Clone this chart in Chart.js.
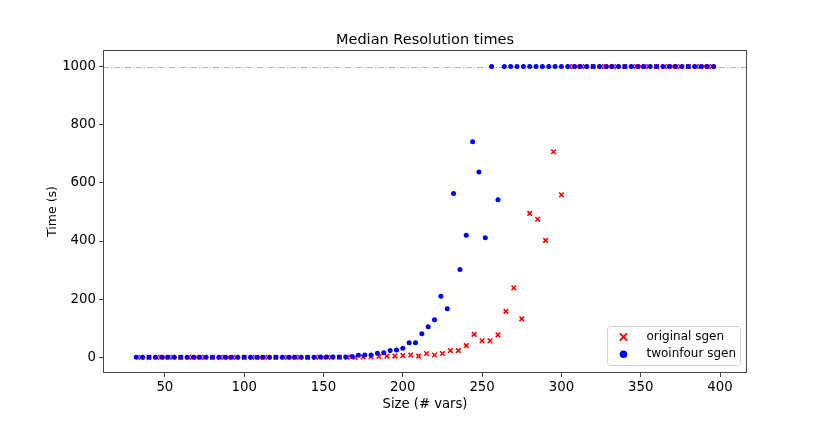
<!DOCTYPE html>
<html>
<head>
<meta charset="utf-8">
<title>Median Resolution times</title>
<script src="https://cdn.jsdelivr.net/npm/chart.js@4.4.0/dist/chart.umd.min.js"></script>
<style>
  html, body { margin: 0; padding: 0; background: #fff; }
  canvas { display: block; }
</style>
</head>
<body>
<canvas id="chart" width="830" height="421"></canvas>
<script>
// timeout value, runs that did not finish are plotted here
const TIMEOUT = 1000;

// original sgen: size (# vars) and median time (s)
const originalSizes = [
    35, 40, 45, 50, 55, 60, 65, 70, 75, 80, 85, 90, 95, 100, 105, 110, 115, 120, 125, 130,
    135, 140, 145, 150, 155, 160, 165, 170, 175, 180, 185, 190, 195, 200, 205, 210, 215, 220,
    225, 230, 235, 240, 245, 250, 255, 260, 265, 270, 275, 280, 285, 290, 295, 300, 305, 310,
    315, 320, 325, 330, 335, 340, 345, 350, 355, 360, 365, 370, 375, 380, 385, 390, 395
];
const originalTimes = [
    0, 0, 0, 0, 0, 0, 0, 0, 0, 0, 0, 0, 0, 0, 0, 0, 0, 0, 0, 0,
    0, 0, 0, 0, 0, 0, 0, 0, 1, 2, 3, 4, 4, 6, 8, 4, 13, 8,
    13, 23, 23, 40, 79, 57, 57, 77, 158, 239, 132, 495, 475, 402, 707, 559, 1000, 1000,
    1000, 1000, 1000, 1000, 1000, 1000, 1000, 1000, 1000, 1000, 1000, 1000, 1000, 1000, 1000, 1000, 1000
];

// twoinfour sgen: size (# vars) and median time (s)
const twoinfourSizes = [
    32, 36, 40, 44, 48, 52, 56, 60, 64, 68, 72, 76, 80, 84, 88, 92, 96, 100, 104, 108,
    112, 116, 120, 124, 128, 132, 136, 140, 144, 148, 152, 156, 160, 164, 168, 172, 176, 180,
    184, 188, 192, 196, 200, 204, 208, 212, 216, 220, 224, 228, 232, 236, 240, 244, 248, 252,
    256, 260, 264, 268, 272, 276, 280, 284, 288, 292, 296, 300, 304, 308, 312, 316, 320, 324,
    328, 332, 336, 340, 344, 348, 352, 356, 360, 364, 368, 372, 376, 380, 384, 388, 392, 396
];
const twoinfourTimes = [
    0, 0, 0, 0, 0, 0, 0, 0, 0, 0, 0, 0, 0, 0, 0, 0, 0, 0, 0, 0,
    0, 0, 0, 0, 0, 0, 0, 0, 0, 1, 1, 1, 1, 1, 3, 7, 8, 8,
    14, 16, 23, 25, 31, 50, 50, 81, 105, 129, 210, 167, 563, 302, 420, 741, 637, 411,
    1000, 542, 1000, 1000, 1000, 1000, 1000, 1000, 1000, 1000, 1000, 1000, 1000, 1000, 1000, 1000, 1000, 1000,
    1000, 1000, 1000, 1000, 1000, 1000, 1000, 1000, 1000, 1000, 1000, 1000, 1000, 1000, 1000, 1000, 1000, 1000
];

const xTicks = [50, 100, 150, 200, 250, 300, 350, 400];
const yTicks = [0, 200, 400, 600, 800, 1000];

const FONT = "'DejaVu Sans', Verdana, sans-serif";

function toPoints(xs, ys) {
    return xs.map((x, i) => ({ x: x, y: ys[i] }));
}

// dash-dot timeout line, axes frame and the legend box
const decorations = {
    id: "decorations",
    afterLayout(chart) {
        // centre the title over the plot area, like matplotlib does
        const t = chart.titleBlock;
        if (t) {
            t.left = chart.chartArea.left;
            t.right = chart.chartArea.right;
            t.width = t.right - t.left;
        }
    },
    beforeDatasetsDraw(chart) {
        const ctx = chart.ctx;
        const ca = chart.chartArea;
        const y = Math.round(chart.scales.y.getPixelForValue(TIMEOUT)) + 0.5;
        ctx.save();
        ctx.strokeStyle = "#b8b8b8";
        ctx.lineWidth = 1;
        ctx.setLineDash([6, 2, 1, 2]);
        ctx.beginPath();
        ctx.moveTo(ca.left, y);
        ctx.lineTo(ca.right, y);
        ctx.stroke();
        ctx.restore();
    },
    afterDraw(chart) {
        const ctx = chart.ctx;
        const ca = chart.chartArea;
        ctx.save();
        ctx.strokeStyle = "#444";
        ctx.lineWidth = 1;
        ctx.strokeRect(Math.round(ca.left) + 0.5, Math.round(ca.top) + 0.5,
            Math.round(ca.right - ca.left) - 1, Math.round(ca.bottom - ca.top) - 1);

        // legend
        const w = 133, h = 39;
        const bx = Math.round(ca.right - 7 - w) + 0.5;
        const by = Math.round(ca.bottom - 8 - h) + 0.5;
        ctx.fillStyle = "rgba(255,255,255,0.8)";
        ctx.strokeStyle = "#d0d0d0";
        ctx.beginPath();
        ctx.roundRect(bx, by, w, h, 3);
        ctx.fill();
        ctx.stroke();

        const items = chart.data.datasets;
        ctx.font = "12px " + FONT;
        ctx.textBaseline = "middle";
        ctx.textAlign = "left";
        items.forEach((ds, i) => {
            const cy = by + 10.5 + i * 17.3;
            const cx = bx + 16;
            if (ds.pointStyle === "crossRot") {
                ctx.strokeStyle = ds.borderColor;
                ctx.lineWidth = 2;
                ctx.beginPath();
                ctx.moveTo(cx - 3.6, cy - 3.6);
                ctx.lineTo(cx + 3.6, cy + 3.6);
                ctx.moveTo(cx + 3.6, cy - 3.6);
                ctx.lineTo(cx - 3.6, cy + 3.6);
                ctx.stroke();
            } else {
                ctx.fillStyle = ds.backgroundColor;
                ctx.beginPath();
                ctx.arc(cx, cy, 3.8, 0, Math.PI * 2);
                ctx.fill();
            }
            ctx.fillStyle = "#000";
            ctx.fillText(ds.label, bx + 39, cy);
        });
        ctx.restore();
    }
};

new Chart(document.getElementById("chart"), {
    type: "scatter",
    data: {
        datasets: [
            {
                label: "original sgen",
                data: toPoints(originalSizes, originalTimes),
                pointStyle: "crossRot",
                pointRadius: 3.2,
                borderColor: "#ff0000",
                backgroundColor: "#ff0000",
                borderWidth: 1.6,
                order: 1
            },
            {
                label: "twoinfour sgen",
                data: toPoints(twoinfourSizes, twoinfourTimes),
                pointStyle: "circle",
                pointRadius: 2.5,
                borderWidth: 0,
                borderColor: "#0000ff",
                backgroundColor: "#0000ff",
                order: 0
            }
        ]
    },
    options: {
        responsive: false,
        animation: false,
        events: [],
        layout: { padding: { left: 0, right: 83, top: 0, bottom: 0 } },
        plugins: {
            legend: { display: false },
            tooltip: { enabled: false },
            title: {
                display: true,
                text: "Median Resolution times",
                color: "#000",
                font: { family: FONT, size: 14.5, weight: "normal" },
                padding: { top: 31.3, bottom: 1.3 }
            }
        },
        scales: {
            x: {
                type: "linear",
                min: 11,
                max: 417,
                afterFit: s => { s.height = 48; },
                afterBuildTicks: s => { s.ticks = xTicks.map(v => ({ value: v })); },
                border: { display: false },
                grid: {
                    display: true, drawOnChartArea: false, drawTicks: true,
                    tickLength: 4, tickColor: "#444", tickWidth: 1
                },
                ticks: {
                    color: "#000", padding: 3, maxRotation: 0,
                    font: { family: FONT, size: 13.3 },
                    callback: v => v
                },
                title: {
                    display: true,
                    text: "Size (# vars)",
                    color: "#000",
                    font: { family: FONT, size: 13.2 },
                    padding: { top: 0, bottom: 9 }
                }
            },
            y: {
                type: "linear",
                min: -54,
                max: 1057,
                afterFit: s => { s.width = 103; },
                afterBuildTicks: s => { s.ticks = yTicks.map(v => ({ value: v })); },
                border: { display: false },
                grid: {
                    display: true, drawOnChartArea: false, drawTicks: true,
                    tickLength: 4, tickColor: "#444", tickWidth: 1
                },
                ticks: {
                    color: "#000", padding: 3,
                    font: { family: FONT, size: 13.3 },
                    callback: v => v
                },
                title: {
                    display: true,
                    text: "Time (s)",
                    color: "#000",
                    font: { family: FONT, size: 12.5 },
                    padding: { top: 45, bottom: 0 }
                }
            }
        }
    },
    plugins: [decorations]
});
</script>
</body>
</html>
